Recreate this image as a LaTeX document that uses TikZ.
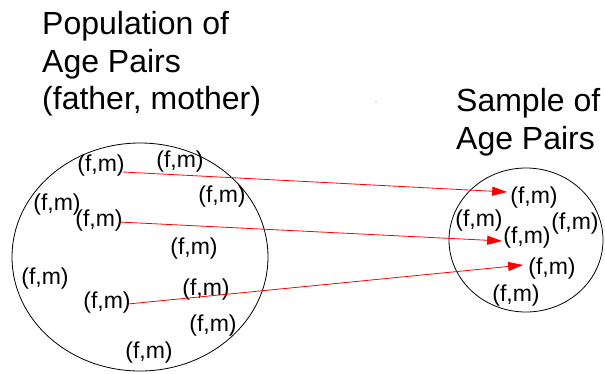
\documentclass[tikz,border=0pt]{standalone}
\usepackage{fontspec}
\setmainfont{Liberation Sans}
\usetikzlibrary{arrows.meta,calc,shapes.geometric}
\begin{document}
\begin{tikzpicture}[x=1pt,y=-1pt,
  title/.style={font=\fontsize{32pt}{37.5pt}\selectfont, align=left, inner sep=0pt, anchor=north west},
  pair/.style={font=\fontsize{23pt}{26pt}\selectfont, inner sep=0pt},
  set/.style={draw=black, line width=0.8pt},
  pick/.style={draw=red, line width=0.8pt, -{Triangle[length=15pt,width=9pt]}, red}]
\useasboundingbox (0,0) rectangle (605,373);
% sets
\node[set, ellipse, minimum width=256pt, minimum height=228pt, inner sep=0pt] (pop) at (140,257) {};
\node[set, ellipse, minimum width=154pt, minimum height=144pt, inner sep=0pt] (smp) at (526,240) {};
% titles
\node[title] (poptitle) at (42,11.5) {Population of\\Age Pairs\\(father, mother)};
\node[title] (smptitle) at (456,88.5) {Sample of\\Age Pairs};
% population pairs
\node[pair] (p1) at (101,166) {(f,m)};
\node[pair] (p2) at (180,162) {(f,m)};
\node[pair] (p3) at (222,197) {(f,m)};
\node[pair] (p4) at (57,205) {(f,m)};
\node[pair] (p5) at (99,221) {(f,m)};
\node[pair] (p6) at (194,249) {(f,m)};
\node[pair] (p7) at (45,279) {(f,m)};
\node[pair] (p8) at (107,303) {(f,m)};
\node[pair] (p9) at (206,290) {(f,m)};
\node[pair] (p10) at (213,326) {(f,m)};
\node[pair] (p11) at (149,353) {(f,m)};
% sample pairs
\node[pair] (s1) at (534,198) {(f,m)};
\node[pair] (s2) at (479,221) {(f,m)};
\node[pair] (s3) at (527,238) {(f,m)};
\node[pair] (s4) at (575,224) {(f,m)};
\node[pair] (s5) at (552,269) {(f,m)};
\node[pair] (s6) at (516,296) {(f,m)};
% stray dot
\fill[gray] (376,102) circle (0.7pt);
% arrows
\draw[pick] ($(p1.east)+(-2,6)$) -- ($(s1.west)+(-3,-6)$);
\draw[pick] ($(p5.east)+(-4,1)$) -- ($(s3.west)+(-1,3)$);
\draw[pick] ($(p8.east)+(-3,1)$) -- ($(s5.west)+(-5,-4)$);
\end{tikzpicture}
\end{document}
